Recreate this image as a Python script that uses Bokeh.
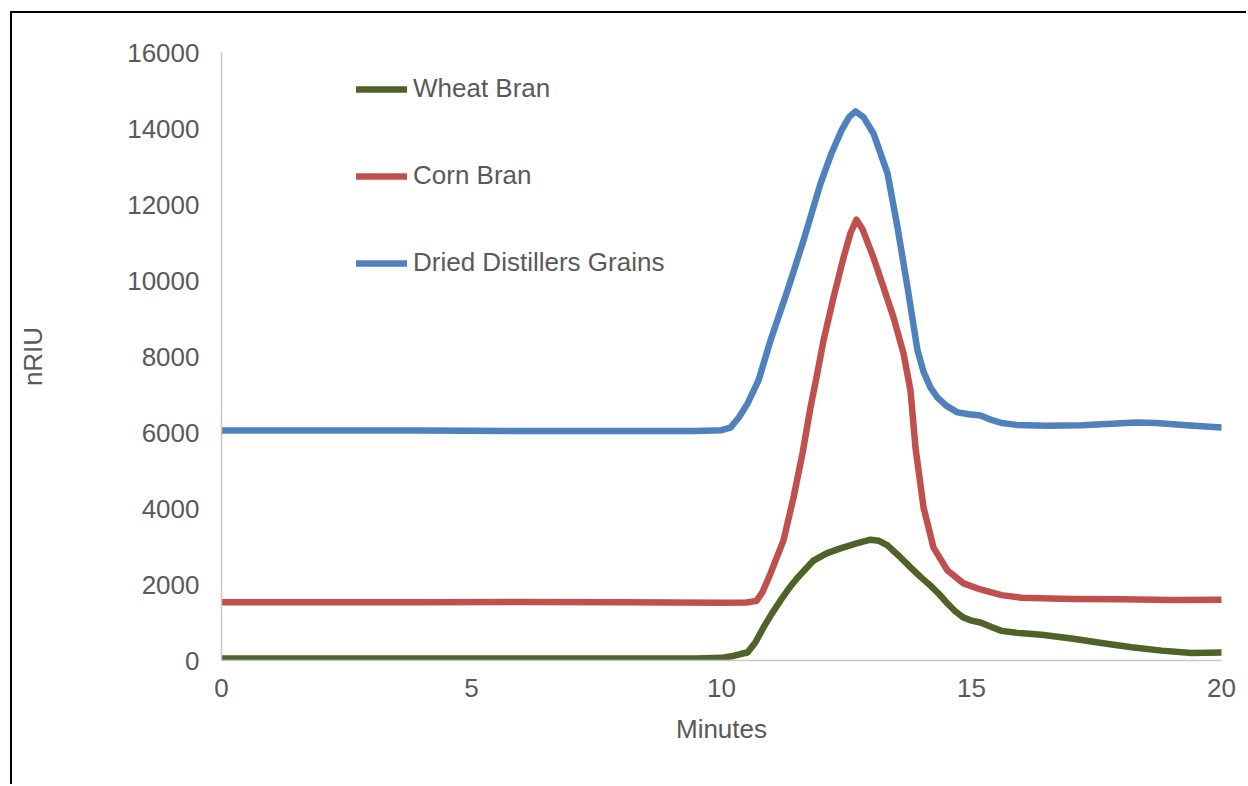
from bokeh.plotting import figure
from bokeh.models import Range1d, FixedTicker, Legend, LegendItem
from bokeh.embed import file_html
from bokeh.resources import INLINE

# ---- data ----
wheat_x = [0, 2, 4, 6, 8, 9.5, 10.0, 10.2, 10.38, 10.52, 10.68, 10.84, 11.0, 11.18, 11.35,
           11.52, 11.84, 12.1, 12.38, 12.7, 12.98, 13.15, 13.32, 13.55, 13.78, 13.98, 14.18,
           14.35, 14.52, 14.68, 14.84, 15.0, 15.18, 15.4, 15.6, 15.9, 16.4, 17.0, 17.6,
           18.2, 18.8, 19.4, 20]
wheat_y = [50, 50, 55, 55, 50, 55, 70, 110, 170, 210, 480, 870, 1220, 1580, 1900,
           2180, 2630, 2820, 2950, 3080, 3180, 3150, 3030, 2750, 2450, 2200, 1970,
           1750, 1500, 1290, 1130, 1050, 1000, 880, 780, 730, 680, 580, 460,
           350, 260, 200, 210]

corn_x = [0, 2, 4, 6, 8, 10, 10.5, 10.7, 10.82, 10.98, 11.24, 11.44, 11.62, 11.78, 11.9,
          12.04, 12.24, 12.44, 12.58, 12.7, 12.82, 13.04, 13.24, 13.44, 13.64, 13.78, 13.88,
          14.04, 14.24, 14.52, 14.84, 15.18, 15.6, 16.0, 17.0, 18.0, 19.0, 20]
corn_y = [1530, 1530, 1535, 1540, 1530, 1520, 1525, 1570, 1800, 2290, 3160, 4290, 5450,
          6660, 7450, 8420, 9550, 10600, 11250, 11600, 11350, 10600, 9820, 9030, 8080,
          7100, 5600, 4030, 2970, 2370, 2030, 1870, 1720, 1650, 1620, 1610, 1590, 1600]

ddg_x = [0, 2, 4, 6, 8, 9.5, 10.0, 10.18, 10.35, 10.52, 10.74, 10.98, 11.32, 11.64, 11.98,
         12.2, 12.4, 12.55, 12.68, 12.84, 13.04, 13.32, 13.52, 13.72, 13.92, 14.04, 14.18,
         14.32, 14.5, 14.72, 14.95, 15.18, 15.4, 15.6, 15.9, 16.5, 17.2, 17.8, 18.3, 18.7,
         19.3, 20]
ddg_y = [6050, 6050, 6050, 6040, 6040, 6040, 6060, 6130, 6400, 6760, 7370, 8420, 9740,
         11050, 12550, 13350, 13950, 14300, 14450, 14300, 13870, 12820, 11400, 9820, 8160,
         7600, 7180, 6920, 6700, 6530, 6480, 6450, 6330, 6250, 6200, 6180, 6190, 6230,
         6260, 6250, 6190, 6130]

series_names = ["Wheat Bran", "Corn Bran", "Dried Distillers Grains"]
series_colors = ["#4F6228", "#C0504D", "#4F81BD"]
x_ticks = [0, 5, 10, 15, 20]
y_ticks = [0, 2000, 4000, 6000, 8000, 10000, 12000, 14000, 16000]

FONT = "Liberation Sans"
TXT = "#595959"

p = figure(width=1236, height=773, output_backend="svg", toolbar_location=None,
           x_range=Range1d(0, 20), y_range=Range1d(0, 16000),
           min_border_left=209, min_border_right=27, min_border_top=39, min_border_bottom=126,
           margin=(11, 0, 0, 10))
p.styles = {"border-left": "2px solid #000000", "border-top": "2px solid #000000"}
p.outline_line_color = None
p.xgrid.visible = False
p.ygrid.visible = False
p.background_fill_color = "white"

for ax in (p.xaxis[0], p.yaxis[0]):
    ax.axis_line_color = "#C8C8C8"
    ax.axis_line_width = 1.5
    ax.major_tick_line_color = None
    ax.minor_tick_line_color = None
    ax.major_tick_out = 0
    ax.major_tick_in = 0
    ax.major_label_text_font = FONT
    ax.major_label_text_font_size = "26px"
    ax.major_label_text_color = TXT
    ax.axis_label_text_font = FONT
    ax.axis_label_text_font_size = "26px"
    ax.axis_label_text_color = TXT
    ax.axis_label_text_font_style = "normal"

p.xaxis.ticker = FixedTicker(ticks=x_ticks)
p.yaxis.ticker = FixedTicker(ticks=y_ticks)
p.xaxis.axis_label = "Minutes"
p.yaxis.axis_label = "nRIU"
p.xaxis.major_label_standoff = 18
p.yaxis.major_label_standoff = 22
p.xaxis.axis_label_standoff = 14
p.yaxis.axis_label_standoff = 76

renderers = []
for xs, ys, c in ((wheat_x, wheat_y, series_colors[0]),
                  (corn_x, corn_y, series_colors[1]),
                  (ddg_x, ddg_y, series_colors[2])):
    r = p.line(xs, ys, line_color=c, line_width=6.5, line_join="round", line_cap="round")
    renderers.append(r)

legend = Legend(items=[LegendItem(label=n, renderers=[r]) for n, r in zip(series_names, renderers)],
                location=(135, 382), padding=0, margin=0, spacing=56,
                glyph_width=51, glyph_height=26, label_height=26, label_standoff=6,
                label_text_font=FONT, label_text_font_size="26px", label_text_color=TXT,
                border_line_color=None, background_fill_alpha=0)
p.add_layout(legend, "center")

open("out.html", "w").write(file_html(p, INLINE))
